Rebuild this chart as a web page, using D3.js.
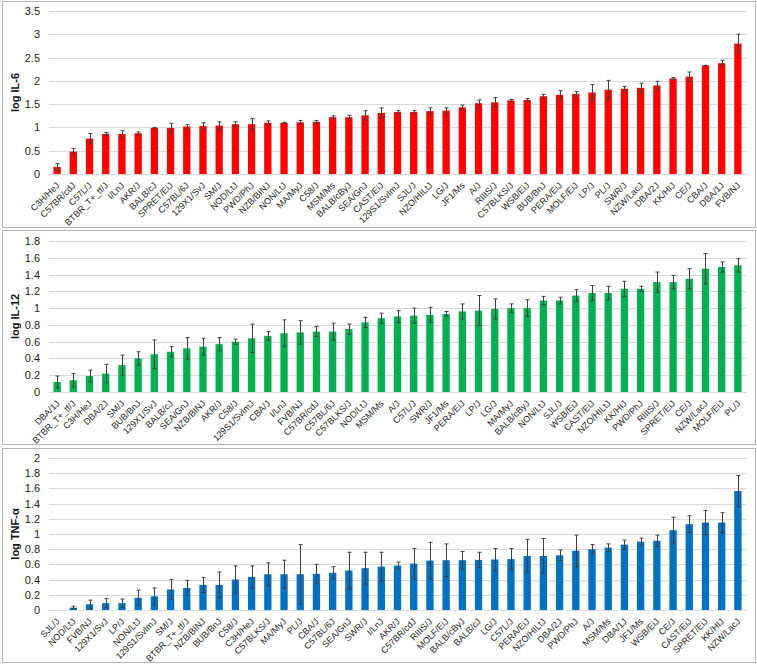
<!DOCTYPE html>
<html><head><meta charset="utf-8">
<script src="https://cdn.jsdelivr.net/npm/d3@7"></script>
<style>body{margin:0;background:#fff}svg{display:block}</style>
</head><body>
<svg id="c" width="757" height="665"></svg>
<script>
// ---- Panel 1: IL-6 ----
const il6Strains = ["C3H/HeJ","C57BR/cdJ","C57L/J","BTBR_T+_tf/J","I/LnJ","AKR/J","BALB/cJ","SPRET/EiJ","C57BL/6J","129X1/SvJ","SM/J","NOD/LtJ","PWD/PhJ","NZB/BINJ","NON/LtJ","MA/MyJ","C58/J","MSM/Ms","BALB/cByJ","SEA/GnJ","CAST/EiJ","129S1/SvImJ","SJL/J","NZO/HILtJ","LG/J","JF1/Ms","A/J","RIIIS/J","C57BLKS/J","WSB/EiJ","BUB/BnJ","PERA/EiJ","MOLF/EiJ","LP/J","PL/J","SWR/J","NZW/LacJ","DBA/2J","KK/HIJ","CE/J","CBA/J","DBA/1J","FVB/NJ"];
const il6Values = [0.15,0.48,0.76,0.86,0.86,0.875,0.99,0.99,1.02,1.03,1.04,1.07,1.07,1.10,1.10,1.11,1.12,1.22,1.22,1.26,1.31,1.33,1.33,1.35,1.36,1.43,1.52,1.54,1.58,1.59,1.67,1.70,1.72,1.75,1.81,1.83,1.85,1.90,2.05,2.09,2.33,2.38,2.80];
const il6Errors = [0.07,0.07,0.11,0.03,0.07,0.03,0.01,0.10,0.04,0.07,0.08,0.05,0.12,0.04,0.01,0.04,0.03,0.03,0.04,0.10,0.11,0.03,0.03,0.07,0.06,0.05,0.07,0.10,0.02,0.03,0.04,0.09,0.05,0.17,0.20,0.05,0.10,0.09,0.02,0.10,0.005,0.06,0.20];
const il6Ticks = [0,0.5,1,1.5,2,2.5,3,3.5];

// ---- Panel 2: IL-12 ----
const il12Strains = ["DBA/1J","BTBR_T+_tf/J","C3H/HeJ","DBA/2J","SM/J","BUB/BnJ","129X1/SvJ","BALB/cJ","SEA/GnJ","NZB/BINJ","AKR/J","C58/J","129S1/SvImJ","CBA/J","I/LnJ","FVB/NJ","C57BR/cdJ","C57BL/6J","C57BLKS/J","NOD/LtJ","MSM/Ms","A/J","C57L/J","SWR/J","JF1/Ms","PERA/EiJ","LP/J","LG/J","MA/MyJ","BALB/cByJ","NON/LtJ","SJL/J","WSB/EiJ","CAST/EiJ","NZO/HILtJ","KK/HIJ","PWD/PhJ","RIIIS/J","SPRET/EiJ","CE/J","NZW/LacJ","MOLF/EiJ","PL/J"];
const il12Values = [0.12,0.14,0.19,0.22,0.32,0.40,0.45,0.48,0.52,0.54,0.57,0.60,0.64,0.67,0.70,0.71,0.72,0.72,0.75,0.83,0.88,0.90,0.91,0.92,0.93,0.96,0.97,0.99,1.00,1.00,1.09,1.09,1.15,1.18,1.18,1.23,1.23,1.31,1.31,1.35,1.47,1.49,1.51];
const il12Errors = [0.07,0.08,0.07,0.11,0.12,0.08,0.17,0.06,0.13,0.10,0.08,0.03,0.17,0.05,0.16,0.14,0.06,0.10,0.06,0.06,0.06,0.07,0.09,0.09,0.03,0.09,0.18,0.12,0.05,0.10,0.05,0.04,0.07,0.09,0.08,0.09,0.03,0.12,0.08,0.12,0.18,0.06,0.08];
const il12Ticks = [0,0.2,0.4,0.6,0.8,1,1.2,1.4,1.6,1.8];

// ---- Panel 3: TNF-alpha ----
const tnfStrains = ["SJL/J","NOD/LtJ","FVB/NJ","129X1/SvJ","LP/J","NON/LtJ","129S1/SvImJ","SM/J","BTBR_T+_tf/J","NZB/BINJ","BUB/BnJ","C58/J","C3H/HeJ","C57BLKS/J","MA/MyJ","PL/J","CBA/J","C57BL/6J","SEA/GnJ","SWR/J","I/LnJ","AKR/J","C57BR/cdJ","RIIIS/J","MOLF/EiJ","BALB/cByJ","BALB/cJ","LG/J","C57L/J","PERA/EiJ","NZO/HILtJ","DBA/2J","PWD/PhJ","A/J","MSM/Ms","DBA/1J","JF1/Ms","WSB/EiJ","CE/J","CAST/EiJ","SPRET/EiJ","KK/HIJ","NZW/LacJ"];
const tnfValues = [0.0,0.03,0.075,0.09,0.09,0.16,0.18,0.27,0.29,0.33,0.33,0.40,0.435,0.47,0.47,0.47,0.475,0.49,0.52,0.55,0.57,0.585,0.61,0.65,0.655,0.655,0.66,0.665,0.67,0.71,0.71,0.72,0.78,0.80,0.82,0.86,0.90,0.91,1.05,1.13,1.15,1.15,1.565];
const tnfErrors = [0,0.02,0.055,0.06,0.055,0.10,0.11,0.13,0.10,0.10,0.17,0.18,0.145,0.15,0.185,0.39,0.125,0.08,0.24,0.21,0.19,0.045,0.20,0.24,0.215,0.115,0.10,0.145,0.14,0.22,0.23,0.07,0.205,0.06,0.05,0.06,0.045,0.075,0.17,0.11,0.16,0.13,0.205];
const tnfTicks = [0,0.2,0.4,0.6,0.8,1,1.2,1.4,1.6,1.8,2];

const panels = [
  {strains: il6Strains, values: il6Values, errors: il6Errors, ticks: il6Ticks, max: 3.5, title: "log IL-6", color: "#ff0000",
   box: [2, 1, 753, 226], plotTop: 11, plotBottom: 174},
  {strains: il12Strains, values: il12Values, errors: il12Errors, ticks: il12Ticks, max: 1.8, title: "log IL-12", color: "#00b050",
   box: [2, 230, 753, 214], plotTop: 241, plotBottom: 392},
  {strains: tnfStrains, values: tnfValues, errors: tnfErrors, ticks: tnfTicks, max: 2, title: "log TNF-\u03b1", color: "#0070c0",
   box: [2, 448, 753, 214], plotTop: 458, plotBottom: 610}
];

const svg = d3.select("#c");
const font = "'Liberation Sans', Arial, sans-serif";
const plotLeft = 49, plotRight = 746;

panels.forEach(p => {
  const g = svg.append("g");
  g.append("rect").attr("x", p.box[0] + 0.5).attr("y", p.box[1] + 0.5)
    .attr("width", p.box[2]).attr("height", p.box[3])
    .attr("fill", "#fff").attr("stroke", "#b4b4b4").attr("stroke-width", 1);

  const x = d3.scaleBand().domain(p.strains).range([plotLeft, plotRight]).paddingInner(0.55).paddingOuter(0.275);
  const y = d3.scaleLinear().domain([0, p.max]).range([p.plotBottom, p.plotTop]);

  // gridlines
  g.append("g").selectAll("line").data(p.ticks).join("line")
    .attr("x1", plotLeft).attr("x2", plotRight)
    .attr("y1", d => Math.round(y(d)) + 0.5).attr("y2", d => Math.round(y(d)) + 0.5)
    .attr("stroke", "#d9d9d9").attr("stroke-width", 1);

  // y axis labels
  const ya = g.append("g").attr("transform", `translate(${plotLeft},0)`)
    .call(d3.axisLeft(y).tickValues(p.ticks).tickSize(0).tickPadding(9).tickFormat(d => String(d)));
  ya.select(".domain").remove();
  ya.selectAll("text").attr("font-family", font).attr("font-size", 11).attr("fill", "#222");

  // y title
  g.append("text").attr("transform", `translate(19,${(p.plotTop + p.plotBottom) / 2}) rotate(-90)`)
    .attr("text-anchor", "middle").attr("font-family", font).attr("font-size", 11).attr("font-weight", "bold")
    .attr("fill", "#111").text(p.title);

  // bars
  g.append("g").selectAll("rect").data(p.values).join("rect")
    .attr("x", (d, i) => x(p.strains[i])).attr("width", x.bandwidth())
    .attr("y", d => y(d)).attr("height", d => y(0) - y(d))
    .attr("fill", p.color);

  // error bars
  const eb = g.append("g").attr("stroke", "#404040").attr("stroke-width", 1).attr("fill", "none");
  p.values.forEach((v, i) => {
    const e = p.errors[i];
    if (e <= 0) return;
    const cx = Math.round(x(p.strains[i]) + x.bandwidth() / 2) + 0.5;
    eb.append("line").attr("x1", cx).attr("x2", cx).attr("y1", y(v - e)).attr("y2", y(v + e));
    eb.append("line").attr("x1", cx - 2).attr("x2", cx + 2).attr("y1", y(v - e)).attr("y2", y(v - e));
    eb.append("line").attr("x1", cx - 2).attr("x2", cx + 2).attr("y1", y(v + e)).attr("y2", y(v + e));
  });

  // x axis
  const xa = g.append("g").attr("transform", `translate(0,${p.plotBottom})`)
    .call(d3.axisBottom(x).tickSize(0).tickPadding(0));
  xa.select(".domain").attr("stroke", "#d9d9d9");
  xa.selectAll("text").attr("font-family", font).attr("font-size", 9).attr("fill", "#222")
    .attr("text-anchor", "end").attr("dy", "0")
    .attr("transform", "translate(3,12) rotate(-45)");
});
</script>
</body></html>
